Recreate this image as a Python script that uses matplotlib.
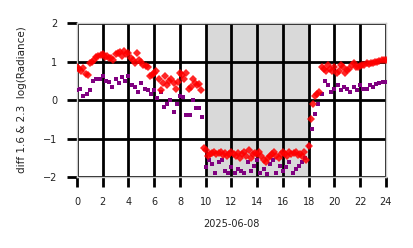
import numpy as np
import matplotlib.pyplot as plt

# diff 1.6 um (red, 10 min cadence) and 2.3 um (purple, 15 min cadence)
red_vals = [
    0.85, 0.80, 0.75, 0.82, 0.68, 0.65,
    0.95, 1.00, 1.05, 1.12, 1.15, 1.18,
    1.20, 1.12, 1.15, 1.08, 1.10, 1.05,
    1.20, 1.22, 1.25, 1.15, 1.27, 1.20,
    1.22, 1.10, 1.05, 0.95, 1.22, 1.05,
    1.00, 0.90, 0.88, 0.85, 0.62, 0.65,
    0.70, 0.75, 0.55, 0.25, 0.45, 0.62,
    0.40, 0.50, 0.55, 0.45, 0.30, 0.48,
    0.70, 0.65, 0.55, 0.70, 0.30, 0.35,
    0.55, 0.45, 0.40, 0.42, 0.25, -1.25,
    -1.30, -1.45, -1.40, -1.38, -1.35, -1.40,
    -1.38, -1.35, -1.42, -1.38, -1.45, -1.40,
    -1.35, -1.40, -1.45, -1.38, -1.50, -1.40,
    -1.35, -1.45, -1.30, -1.50, -1.40, -1.38,
    -1.40, -1.35, -1.45, -1.55, -1.60, -1.50,
    -1.45, -1.40, -1.35, -1.45, -1.50, -1.40,
    -1.35, -1.40, -1.45, -1.35, -1.40, -1.38,
    -1.35, -1.42, -1.40, -1.45, -1.35, -1.55,
    -1.20, -0.50, -0.10, 0.10, 0.15, 0.20,
    0.85, 0.80, 0.75, 0.90, 0.80, 0.75,
    0.85, 0.70, 0.75, 0.90, 0.85, 0.70,
    0.78, 0.80, 0.90, 0.95, 0.85, 0.85,
    0.88, 0.92, 0.90, 0.95, 0.93, 0.97,
    0.97, 1.00, 0.98, 1.02, 1.03, 1.05,
    1.05,
]
purple_vals = [
    0.25, 0.30, 0.10, 0.15,
    0.25, 0.50, 0.55, 0.55,
    0.62, 0.50, 0.48, 0.35,
    0.55, 0.45, 0.60, 0.50,
    0.62, 0.40, 0.35, 0.22,
    0.45, 0.30, 0.25, 0.15,
    0.25, 0.05, 0.20, -0.18,
    -0.10, 0.00, -0.30, -0.10,
    0.10, 0.08, -0.40, -0.38,
    0.00, -0.20, -0.20, -0.45,
    -1.75, -1.55, -1.65, -1.90,
    -1.60, -1.55, -1.85, -1.90,
    -1.75, -1.90, -1.80, -1.85,
    -1.90, -1.60, -1.85, -1.70,
    -1.55, -1.90, -1.80, -1.92,
    -1.65, -1.55, -1.90, -1.70,
    -1.85, -1.75, -1.60, -1.90,
    -1.80, -1.70, -1.60, -1.50,
    -1.20, -0.75, -0.35, -0.10,
    0.15, 0.50, 0.40, 0.20,
    0.30, 0.40, 0.25, 0.35,
    0.30, 0.20, 0.35, 0.25,
    0.40, 0.30, 0.30, 0.38,
    0.35, 0.42, 0.45, 0.48,
    0.48,
]
red_hours = np.arange(len(red_vals)) / 6.0
purple_hours = np.arange(len(purple_vals)) / 4.0

night_start, night_end = 10, 18
xticks = list(range(0, 25, 2))
yticks = [-2, -1, 0, 1, 2]

fig = plt.figure(figsize=(4.14, 2.48), dpi=100)
ax = fig.add_axes([0.186, 0.286, 0.746, 0.621])

ax.axvspan(night_start, night_end, color="#d9d9d9", zorder=0)
ax.plot(purple_hours, purple_vals, "s", color="purple", ms=2.6, mew=0, zorder=3)
ax.plot(red_hours, red_vals, "D", color="red", ms=3.8, mew=0, alpha=0.85, zorder=4)

ax.set_xlim(0, 24)
ax.set_ylim(-2, 2)
ax.set_xticks(xticks)
ax.set_yticks(yticks)
ax.grid(True, color="black", lw=2, zorder=1)
ax.set_axisbelow(True)
for s in ax.spines.values():
    s.set_color("#cccccc")
    s.set_linewidth(1)
ax.tick_params(axis="both", length=7, width=2, color="black", labelsize=7, pad=7,
               labelcolor="#222222")
ax.set_xlabel("2025-06-08", fontsize=7, labelpad=9, color="#222222")
ax.set_ylabel("diff 1.6 & 2.3  log(Radiance)", fontsize=7.5, labelpad=12, color="#222222")

fig.savefig("out.png", dpi=100)
